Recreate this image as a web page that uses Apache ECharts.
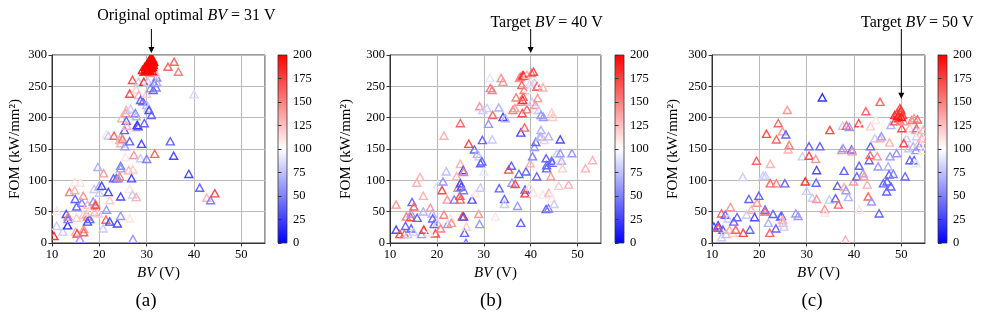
<!DOCTYPE html>
<html><head><meta charset="utf-8">
<script src="https://cdn.jsdelivr.net/npm/echarts@6/dist/echarts.min.js"></script>
<style>html,body{margin:0;padding:0;background:#fff}#c{width:992px;height:325px}</style>
</head><body><div id="c"></div>
<script>
// ---- data: [BV (V), FOM (kW/mm2), colour value] ----
const pointsA = [
[10.4,11,180],[11.0,51,110],[11.0,27,80],[12.3,18,80],[13.3,28,20],[13.0,46,30],[13.4,42,150],[13.4,38,50],
[13.7,81,150],[14.8,84,130],[14.8,97,110],[16.0,96,110],[14.9,70,40],[15.2,58,40],[15.2,40,120],[15.0,18,130],
[15.3,15,170],[15.9,6,60],[16.3,64,50],[16.6,75,140],[16.6,45,120],[16.7,22,140],[16.7,17,160],[17.3,46,130],
[17.5,61,130],[17.5,42,150],[17.5,34,30],[18.0,38,40],[18.0,50,110],[18.7,66,60],[18.9,86,80],[19.0,49,130],
[19.2,62,150],[19.2,60,170],[19.8,47,120],[19.9,90,70],[20.0,80,80],[19.7,121,70],[20.5,91,30],[20.8,23,80],
[20.9,111,140],[21.4,37,160],[21.5,53,60],[21.9,81,30],[22.2,34,30],[22.2,68,120],[21.5,173,110],[21.9,171,80],
[23.0,103,40],[23.6,103,40],[23.1,171,160],[23.8,31,30],[24.0,103,60],[24.3,106,150],[24.5,123,50],[24.5,119,60],
[24.5,74,30],[24.5,43,60],[24.5,169,130],[24.3,164,130],[24.5,159,130],[24.9,166,150],[24.7,199,130],[25.3,180,40],
[25.4,154,60],[25.5,137,110],[25.6,207,140],[25.7,212,130],[25.7,195,40],[25.8,187,130],[26.2,116,130],[26.4,162,40],
[26.4,86,110],[26.4,238,170],[26.4,39,110],[26.6,214,80],[26.8,103,30],[27.0,77,80],[27.0,260,170],[27.1,117,120],
[27.1,6,60],[27.3,140,140],[27.6,207,50],[27.6,184,120],[27.8,202,70],[27.8,73,130],[27.8,245,120],[28.0,188,20],
[28.2,186,30],[28.3,236,130],[28.3,257,80],[28.7,228,40],[28.7,135,80],[28.9,158,30],[29.2,226,40],[29.4,257,180],
[29.5,191,40],[30.0,134,50],[30.0,220,70],[30.0,238,120],[30.3,215,80],[30.3,257,80],[30.5,212,30],[30.8,247,60],
[31.0,204,40],[31.4,244,40],[31.6,255,50],[32.0,248,50],[32.1,264,50],[32.1,257,70],[31.7,142,160],[35.0,162,40],
[35.7,139,30],[38.9,110,30],[40.0,237,85],[41.2,88,40],[42.7,72,130],[43.5,68,50],[44.4,79,170],[34.5,281,160],
[35.8,289,160],[36.7,273,150],[31.5,276,130],[31.9,271,120],[30.7,271,140],
[29.1,276,190],[29.4,273,180],[29.6,281,190],[30.0,284,200],[30.3,287,200],[30.7,289,200],[31.0,292,200],[30.9,295,200],
[31.0,279,190],[31.4,284,200],[31.5,289,200],[30.3,276,190],[30.6,281,200],[31.1,286,200],[30.8,283,195],[31.2,274,185],[30.0,273,180],
[29.8,278,200],[30.2,281,200],[30.5,284,200],[30.8,287,200],[31.1,290,200],[31.3,293,200],[30.9,280,200],[30.4,278,200],
[30.7,275,195],[31.2,281,200],[29.7,275,195],[30.1,276,200],[31.0,285,200],[31.3,287,200],[30.6,292,200]
];
const pointsB = [
[11.3,61,140],[11.3,21,30],[12.1,14,170],[13.1,14,160],[13.8,14,80],[13.3,27,40],[13.5,42,150],[14.4,41,170],
[14.5,47,60],[14.7,65,40],[15.1,58,160],[14.5,23,40],[15.0,18,80],[15.8,40,40],[15.7,96,130],[16.4,105,130],
[17.1,75,130],[17.1,50,70],[16.7,14,60],[17.2,21,180],[18.6,56,140],[19.0,47,70],[19.1,39,40],[19.4,30,40],
[19.7,15,170],[18.3,17,110],[20.1,32,80],[20.2,93,90],[21.3,98,60],[21.1,84,170],[21.5,171,130],[22.0,114,75],
[21.5,45,150],[20.8,23,150],[22.2,69,140],[22.3,30,60],[22.9,39,110],[23.1,32,140],[23.7,69,50],[24.2,106,130],
[24.5,88,150],[25.0,191,160],[25.0,126,130],[24.9,75,170],[25.0,69,160],[25.0,95,30],[25.2,90,30],[25.6,116,30],
[25.7,113,150],[25.7,84,50],[25.4,42,170],[25.7,42,30],[25.9,16,40],[26.3,26,120],[26.2,0,50],[26.8,158,170],
[27.5,69,30],[28.2,79,110],[28.0,149,40],[28.6,142,70],[29.0,138,80],[29.3,127,40],[29.6,130,40],[29.1,218,140],
[29.8,212,80],[29.7,164,40],[30.0,114,90],[28.9,46,140],[29.1,30,60],[29.3,88,80],[30.7,215,80],[31.0,190,60],
[31.3,263,90],[31.4,247,150],[31.8,244,150],[31.9,204,160],[31.8,165,80],[32.5,42,110],[33.2,216,70],[33.3,87,40],
[33.7,263,140],[34.1,257,140],[34.1,201,30],[34.6,199,70],[34.4,70,40],[34.4,62,80],[35.3,117,170],[35.9,123,40],
[36.0,96,60],[36.2,212,150],[36.6,215,140],[36.7,94,170],[36.9,232,150],[37.2,59,60],[37.6,263,140],[37.8,265,150],
[37.9,225,140],[37.9,176,30],[37.5,110,40],[37.9,32,40],[38.1,252,160],[38.3,267,180],[38.5,267,180],[38.3,228,180],
[38.2,207,170],[38.4,233,160],[38.6,244,150],[38.7,184,160],[38.8,85,40],[38.8,79,180],[39.2,268,130],[39.2,213,160],
[39.0,114,40],[39.8,253,130],[39.9,127,130],[39.8,90,110],[40.2,271,150],[40.6,273,170],[40.1,256,90],[40.0,245,100],
[40.3,225,80],[40.4,138,50],[40.6,80,110],[40.8,153,60],[40.8,256,80],[41.0,212,90],[41.0,220,140],[41.1,161,40],
[41.3,249,170],[41.5,231,140],[41.3,106,40],[41.5,250,150],[41.7,212,80],[41.9,169,75],[42.0,253,100],[42.2,204,60],
[42.2,180,70],[42.2,170,70],[42.6,248,130],[42.6,77,110],[42.7,201,60],[42.9,164,120],[43.3,135,40],[43.4,124,40],
[43.4,119,40],[43.3,54,40],[43.8,55,50],[43.8,170,70],[43.9,80,130],[44.2,78,110],[44.3,106,140],[44.5,131,40],
[44.6,128,40],[44.5,208,120],[44.7,201,120],[44.5,71,110],[45.0,62,80],[45.6,143,80],[46.1,130,110],[46.0,91,120],
[46.3,165,30],[46.3,143,60],[46.6,131,70],[46.8,119,120],[48.1,93,130],[48.8,143,60],[51.7,119,130],[53.2,132,130]
];
const pointsC = [
[10.4,26,30],[11.3,28,30],[11.3,24,170],[12.0,47,160],[12.3,21,40],[12.0,9,80],[12.8,45,40],[13.0,14,75],
[13.4,39,80],[13.9,57,140],[13.7,21,130],[14.6,34,40],[14.4,16,120],[15.0,21,160],[15.3,41,40],[16.6,16,170],
[16.5,105,80],[17.3,45,80],[17.8,70,40],[18.3,53,130],[18.0,21,40],[19.0,41,30],[19.4,131,160],[19.5,64,140],
[19.9,75,40],[20.8,107,80],[21.3,107,80],[21.2,53,40],[21.2,50,160],[21.5,174,170],[21.9,32,70],[22.2,16,160],
[22.3,126,130],[22.3,95,160],[22.9,46,40],[23.5,23,40],[23.6,95,150],[23.6,165,160],[24.0,191,160],[24.5,42,40],
[24.7,43,40],[24.9,178,140],[24.9,37,130],[25.0,32,130],[25.2,26,80],[25.6,173,40],[25.4,95,40],[25.9,212,140],
[26.1,149,130],[26.3,156,150],[29.1,138,80],[27.7,47,60],[28.2,43,60],[29.7,98,180],[30.0,83,80],[30.5,154,40],
[30.5,139,170],[31.0,181,100],[31.2,72,80],[31.9,134,140],[32.1,116,30],[32.0,96,40],[32.1,70,140],[32.8,154,40],
[33.3,232,20],[34.9,180,170],[34.8,69,80],[33.8,54,140],[33.9,48,110],[36.1,71,40],[36.5,91,40],[36.7,61,160],
[37.4,148,140],[37.6,187,80],[37.7,151,60],[37.9,115,40],[37.9,89,130],[38.3,84,60],[38.2,5,130],[38.4,187,160],
[39.0,185,60],[38.8,73,70],[39.5,149,40],[39.6,146,140],[39.9,98,140],[40.6,106,40],[41.0,191,170],[41.1,123,40],
[41.1,53,110],[41.8,187,100],[41.9,111,60],[42.1,106,140],[42.5,210,160],[42.8,93,130],[43.0,74,160],[43.2,132,40],
[43.4,140,160],[43.5,154,40],[43.5,186,120],[43.7,66,60],[44.4,167,80],[44.6,196,110],[44.9,138,140],[45.3,47,40],
[45.5,225,160],[45.1,122,60],[45.5,167,130],[45.8,170,60],[46.2,95,40],[46.9,82,40],[47.0,98,40],[47.2,122,70],
[47.4,109,40],[47.5,160,130],[47.6,138,60],[47.8,188,70],[47.8,90,40],[48.3,110,50],[49.0,143,60],[50.8,106,40],
[51.1,167,80],[51.5,151,80],[51.7,183,130],[51.8,132,40],[51.9,178,100],[52.2,196,150],[52.5,154,70],[52.7,132,40],
[52.7,199,140],[53.1,180,70],[53.1,148,60],[53.2,170,80],[53.2,183,160],[53.4,197,160],[53.6,159,120],[53.7,175,110],
[53.8,154,60],[54.3,167,130],[54.6,180,130],[54.6,148,110],[54.8,164,110],[53.1,127,90],
[48.6,194,170],[48.6,204,180],[49.1,207,180],[49.4,199,180],[49.7,215,170],[49.8,208,170],[50.1,183,170],[50.3,204,170],
[49.7,195,150],[50.5,194,140],[50.5,159,170],[49.3,203,190],[50.0,201,190],[49.9,212,180]
];
const xMin = 10, xMax = 55, xInterval = 10;
const yMin = 0, yMax = 300, yInterval = 50;
const cMin = 0, cMax = 200, cInterval = 25;
const captions = ['(a)', '(b)', '(c)'];
const annotations = [
  {text: 'Original optimal {i|BV} = 31 V', bv: 31, fom: 300},
  {text: 'Target {i|BV} = 40 V', bv: 40, fom: 300},
  {text: 'Target {i|BV} = 50 V', bv: 50, fom: 230}
];

// ---- layout ----
const FONT = 'Liberation Serif';
const panels = [
  {left: 52, width: 213, cbLeft: 278, nameGap: 29, capX: 146, textDx: 35, textY: 16, tipDy: -2},
  {left: 390, width: 211, cbLeft: 615, nameGap: 36, capX: 491, textDx: 16, textY: 23, tipDy: -2},
  {left: 712, width: 213, cbLeft: 938, nameGap: 31, capX: 812, textDx: 16, textY: 23, tipDy: 0}
];
const TOP = 55, H = 188;
const frame = '#333';
const bwr = ['#0000ff', '#ffffff', '#ff0000'];

const chart = echarts.init(document.getElementById('c'), null, {renderer: 'canvas'});
const grids = [], xAxes = [], yAxes = [], series = [];
const allPoints = [pointsA, pointsB, pointsC];

panels.forEach((p, i) => {
  grids.push({left: p.left, top: TOP, width: p.width, height: H, show: true,
    borderColor: frame, borderWidth: 1, backgroundColor: 'transparent', containLabel: false});
  xAxes.push({gridIndex: i, type: 'value', min: xMin, max: xMax, interval: xInterval,
    name: '{i|BV} (V)', nameLocation: 'middle', nameGap: 20,
    nameTextStyle: {fontFamily: FONT, fontSize: 15, color: '#000',
      rich: {i: {fontFamily: FONT, fontSize: 15, fontStyle: 'italic', color: '#000'}}},
    axisLine: {show: true, lineStyle: {color: frame, width: 1}},
    axisTick: {show: true, inside: false, length: 3.5, lineStyle: {color: frame}},
    axisLabel: {fontFamily: FONT, fontSize: 12.5, color: '#000', margin: 5, showMaxLabel: false},
    splitLine: {show: true, lineStyle: {color: '#bababa', width: 1}}});
  yAxes.push({gridIndex: i, type: 'value', min: yMin, max: yMax, interval: yInterval,
    name: 'FOM (kW/mm²)', nameLocation: 'middle', nameGap: p.nameGap,
    nameTextStyle: {fontFamily: FONT, fontSize: 15, color: '#000'},
    axisLine: {show: true, lineStyle: {color: frame, width: 1}},
    axisTick: {show: true, inside: false, length: 3.5, lineStyle: {color: frame}},
    axisLabel: {fontFamily: FONT, fontSize: 12.5, color: '#000', margin: 5},
    splitLine: {show: true, lineStyle: {color: '#bababa', width: 1}}});
  series.push({type: 'custom', xAxisIndex: i, yAxisIndex: i, clip: true,
    dimensions: ['bv', 'fom', 'val'], encode: {x: 0, y: 1},
    data: allPoints[i],
    renderItem: function (params, api) {
      const c = api.coord([api.value(0), api.value(1)]);
      const col = api.visual('color');
      return {type: 'polygon',
        shape: {points: [[c[0], c[1] - 3.8], [c[0] - 4, c[1] + 3.4], [c[0] + 4, c[1] + 3.4]]},
        style: {fill: 'none', stroke: col, lineWidth: 1.4}};
    }});
});
// colour bars
panels.forEach((p, i) => {
  const gi = 3 + i;
  grids.push({left: p.cbLeft, top: TOP, width: 9, height: H, show: true,
    borderColor: frame, borderWidth: 0.8,
    backgroundColor: {type: 'linear', x: 0, y: 0, x2: 0, y2: 1,
      colorStops: [{offset: 0, color: bwr[2]}, {offset: 0.5, color: bwr[1]}, {offset: 1, color: bwr[0]}]}});
  xAxes.push({gridIndex: gi, type: 'value', min: 0, max: 1, show: false});
  yAxes.push({gridIndex: gi, type: 'value', position: 'right', min: cMin, max: cMax, interval: cInterval,
    axisLine: {show: false},
    axisTick: {show: true, inside: false, length: 3.5, lineStyle: {color: frame}},
    axisLabel: {fontFamily: FONT, fontSize: 12.5, color: '#000', margin: 6},
    splitLine: {show: false}});
  series.push({type: 'scatter', xAxisIndex: gi, yAxisIndex: gi, data: [], silent: true});
});

chart.setOption({
  animation: false,
  backgroundColor: '#fff',
  grid: grids, xAxis: xAxes, yAxis: yAxes, series: series,
  visualMap: [{type: 'continuous', show: false, seriesIndex: [0, 1, 2], dimension: 2,
    min: cMin, max: cMax, inRange: {color: bwr}}]
});

// annotations and captions
const graphics = [];
panels.forEach((p, i) => {
  const a = annotations[i];
  const tip = chart.convertToPixel({gridIndex: i}, [a.bv, a.fom]);
  const tx = tip[0], ty = tip[1] + p.tipDy;
  const sy = 29;
  graphics.push({type: 'line', shape: {x1: tx, y1: sy, x2: tx, y2: ty - 5},
    style: {stroke: '#000', lineWidth: 1}});
  graphics.push({type: 'polygon', shape: {points: [[tx - 3, ty - 6], [tx + 3, ty - 6], [tx, ty]]},
    style: {fill: '#000'}});
  graphics.push({type: 'text', x: tx + p.textDx, y: p.textY,
    style: {text: a.text, fontFamily: FONT, fontSize: 16, fill: '#000', align: 'center', verticalAlign: 'middle',
      rich: {i: {fontFamily: FONT, fontSize: 16, fontStyle: 'italic', fill: '#000'}}}});
  graphics.push({type: 'text', x: p.capX, y: 301,
    style: {text: captions[i], fontFamily: FONT, fontSize: 19, fill: '#000', align: 'center', verticalAlign: 'middle'}});
});
chart.setOption({graphic: graphics});
</script></body></html>
